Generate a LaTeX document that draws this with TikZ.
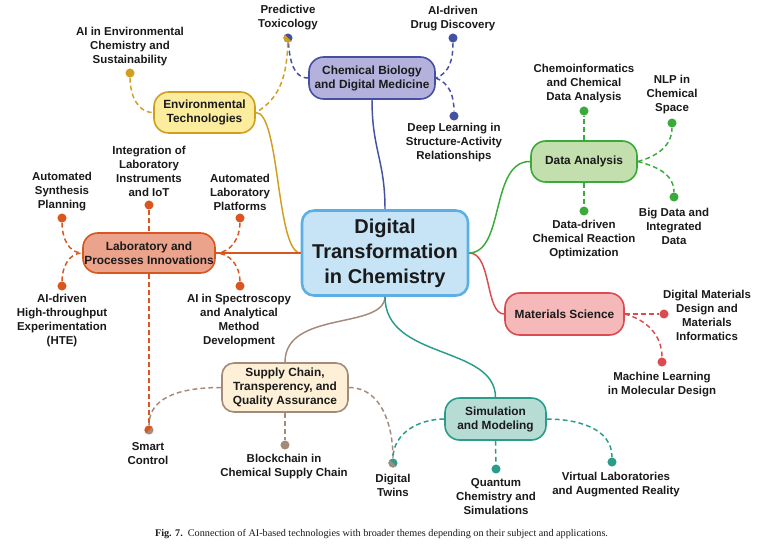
\documentclass[tikz,border=0pt]{standalone}
\usepackage{fontspec}
\setmainfont{Liberation Sans}
\newfontfamily\capfont{Liberation Serif}
\usetikzlibrary{calc}
\definecolor{cbF}{HTML}{B4B1DC}\definecolor{cbD}{HTML}{4450A2}
\definecolor{enF}{HTML}{FBEC9E}\definecolor{enD}{HTML}{D29E1E}
\definecolor{lbF}{HTML}{EBA38B}\definecolor{lbD}{HTML}{D9571F}
\definecolor{scF}{HTML}{FDF0D6}\definecolor{scD}{HTML}{A38A7A}
\definecolor{smF}{HTML}{B6DCD3}\definecolor{smD}{HTML}{2A9D8A}
\definecolor{msF}{HTML}{F5B9BA}\definecolor{msD}{HTML}{DB4B50}
\definecolor{daF}{HTML}{C4DFAE}\definecolor{daD}{HTML}{3AAA3A}
\definecolor{ctF}{HTML}{C6E4F6}\definecolor{ctD}{HTML}{5BAFE3}
\definecolor{txt}{HTML}{1A1A1A}
\tikzset{
  topic/.style={draw, rectangle, rounded corners=11pt, line width=1.2pt, align=center,
    font=\bfseries\fontsize{8.9}{10.5}\selectfont, text=txt, inner sep=0pt},
  lbl/.style={align=center, font=\bfseries\fontsize{8.6}{10.5}\selectfont, text=txt, inner sep=0pt},
  dotn/.style={circle, inner sep=0pt, minimum size=6.8pt},
  sub/.style={dash pattern=on 3.6pt off 2.4pt, line width=1.1pt},
  mainln/.style={line width=1.1pt},
}
\begin{document}
\begin{tikzpicture}[x=0.75pt,y=0.75pt]
\useasboundingbox (0,0) rectangle (762,-551);
\fill[white] (0,0) rectangle (762,-551);

% main topics
\node[topic, fill=ctF, draw=ctD, line width=1.9pt, minimum width=124.5pt, minimum height=63.75pt,
  rounded corners=9pt, font=\bfseries\fontsize{15}{18.75}\selectfont] (ct) at (385,-253)
  {Digital\\Transformation\\in Chemistry};
\node[topic, fill=cbF, draw=cbD, minimum width=94.5pt, minimum height=31.5pt] (cb) at (372,-78)
  {Chemical Biology\\and Digital Medicine};
\node[topic, fill=enF, draw=enD, minimum width=75.75pt, minimum height=30.75pt] (en) at (204.5,-112.5)
  {Environmental\\Technologies};
\node[topic, fill=lbF, draw=lbD, minimum width=99pt, minimum height=30pt] (lb) at (149,-253)
  {Laboratory and\\Processes Innovations};
\node[topic, fill=scF, draw=scD, minimum width=94.5pt, minimum height=36.75pt, rounded corners=9pt] (sc) at (285,-387.5)
  {Supply Chain,\\Transperency, and\\Quality Assurance};
\node[topic, fill=smF, draw=smD, minimum width=75.75pt, minimum height=31.5pt] (sm) at (495.5,-419)
  {Simulation\\and Modeling};
\node[topic, fill=msF, draw=msD, minimum width=89.25pt, minimum height=31.5pt] (ms) at (564.5,-314)
  {Materials Science};
\node[topic, fill=daF, draw=daD, minimum width=79.5pt, minimum height=30.75pt] (da) at (584,-161.5)
  {Data Analysis};

% dots
\node[dotn] (d-pt) at (288,-38) {};
\node[dotn, fill=cbD] (d-dd) at (453,-38) {};
\node[dotn, fill=cbD] (d-dl) at (454,-116) {};
\node[dotn, fill=enD] (d-ae) at (130,-73) {};
\node[dotn, fill=lbD] (d-asp) at (62,-218) {};
\node[dotn, fill=lbD] (d-iot) at (149,-205) {};
\node[dotn, fill=lbD] (d-alp) at (240,-218) {};
\node[dotn, fill=lbD] (d-hte) at (62,-286) {};
\node[dotn, fill=lbD] (d-ais) at (240,-286) {};
\node[dotn] (d-sm) at (149,-430) {};
\node[dotn, fill=scD] (d-bc) at (285,-445) {};
\node[dotn] (d-dt) at (393,-463) {};
\node[dotn, fill=smD] (d-qc) at (496,-469) {};
\node[dotn, fill=smD] (d-vl) at (612,-462) {};
\node[dotn, fill=msD] (d-ml) at (662,-362) {};
\node[dotn, fill=msD] (d-dm) at (664,-314) {};
\node[dotn, fill=daD] (d-bd) at (674,-197) {};
\node[dotn, fill=daD] (d-dr) at (584,-211) {};
\node[dotn, fill=daD] (d-ci) at (584,-111) {};
\node[dotn, fill=daD] (d-nl) at (672,-123) {};

% labels
\node[lbl] (t-pt) at (288,-18) {Predictive\\Toxicology};
\node[lbl] (t-dd) at (453,-18.5) {AI-driven\\Drug Discovery};
\node[lbl] (t-dl) at (454,-143) {Deep Learning in\\Structure-Activity\\Relationships};
\node[lbl] (t-ae) at (130,-47) {AI in Environmental\\Chemistry and\\Sustainability};
\node[lbl] (t-asp) at (62,-192) {Automated\\Synthesis\\Planning};
\node[lbl] (t-iot) at (149,-171) {Integration of\\Laboratory\\Instruments\\and IoT};
\node[lbl] (t-alp) at (240,-192) {Automated\\Laboratory\\Platforms};
\node[lbl] (t-hte) at (62,-321) {AI-driven\\High-throughput\\Experimentation\\(HTE)};
\node[lbl] (t-ais) at (239,-321) {AI in Spectroscopy\\and Analytical\\Method\\Development};
\node[lbl] (t-sm) at (148,-454) {Smart\\Control};
\node[lbl] (t-bc) at (284,-467) {Blockchain in\\Chemical Supply Chain};
\node[lbl] (t-dt) at (393,-485) {Digital\\Twins};
\node[lbl] (t-qc) at (496,-497) {Quantum\\Chemistry and\\Simulations};
\node[lbl] (t-vl) at (616,-485) {Virtual Laboratories\\and Augmented Reality};
\node[lbl] (t-ml) at (662,-385) {Machine Learning\\in Molecular Design};
\node[lbl] (t-dm) at (707,-315.5) {Digital Materials\\Design and\\Materials\\Informatics};
\node[lbl] (t-bd) at (674,-226) {Big Data and\\Integrated\\Data};
\node[lbl] (t-dr) at (584,-240) {Data-driven\\Chemical Reaction\\Optimization};
\node[lbl] (t-ci) at (584,-84) {Chemoinformatics\\and Chemical\\Data Analysis};
\node[lbl] (t-nl) at (672,-95) {NLP in\\Chemical\\Space};

% main connectors
\draw[mainln, cbD] (ct.north) .. controls (385,-160) and (372,-150) .. (cb.south);
\draw[mainln, enD] (en.east) .. controls (280,-112) and (276,-253) .. (ct.west);
\draw[mainln, lbD] (ct.west) -- (lb.east);
\draw[mainln, scD] (ct.south) .. controls (384,-330) and (285,-310) .. (sc.north);
\draw[mainln, smD] (ct.south) .. controls (385,-360) and (495,-345) .. (sm.north);
\draw[mainln, msD] (ct.east) .. controls (492,-253) and (485,-314) .. (ms.west);
\draw[mainln, daD] (ct.east) .. controls (505,-252) and (490,-161) .. (da.west);

% sub connectors
\draw[sub, cbD] (d-pt) to[out=-85, in=180] (cb.west);
\draw[sub, enD] (d-pt) to[out=-92, in=30] (en.east);
\draw[sub, cbD] (d-dd) to[out=-90, in=20] (cb.east);
\draw[sub, cbD] (cb.east) to[out=-20, in=90] (d-dl);
\draw[sub, enD] (d-ae) to[out=-90, in=180] (en.west);
\draw[sub, lbD] (d-asp) to[out=-90, in=180] (lb.west);
\draw[sub, lbD] (d-hte) to[out=90, in=180] (lb.west);
\draw[sub, lbD] (d-alp) to[out=-90, in=0] (lb.east);
\draw[sub, lbD] (d-ais) to[out=90, in=0] (lb.east);
\draw[sub, lbD] (d-iot) -- (lb.north);
\draw[sub, lbD] (lb.south) -- (d-sm);
\draw[sub, scD] (sc.west) to[out=180, in=90] (d-sm);
\draw[sub, scD] (sc.east) to[out=0, in=90] (d-dt);
\draw[sub, scD] (sc.south) -- (d-bc);
\draw[sub, smD] (sm.west) to[out=180, in=90] (d-dt);
\draw[sub, smD] (sm.east) to[out=0, in=90] (d-vl);
\draw[sub, smD] (sm.south) -- (d-qc);
\draw[sub, msD] (ms.east) -- (d-dm);
\draw[sub, msD] (ms.east) to[out=-15, in=90] (d-ml);
\draw[sub, daD] (da.north) -- (d-ci);
\draw[sub, daD] (da.south) -- (d-dr);
\draw[sub, daD] (da.east) to[out=15, in=-90] (d-nl);
\draw[sub, daD] (da.east) to[out=-15, in=90] (d-bd);

% split dots (drawn on top of their connectors)
\begin{scope}
\clip (d-pt.center) circle[radius=3.4pt];
\fill[cbD] ($(d-pt.center)+(-6,-6)$) rectangle ($(d-pt.center)+(6,6)$);
\fill[enD] ($(d-pt.center)+(-6,6)$) -- ($(d-pt.center)+(6,-6)$) -- ($(d-pt.center)+(-6,-6)$) -- cycle;
\end{scope}
\begin{scope}
\clip (d-sm.center) circle[radius=3.4pt];
\fill[scD] ($(d-sm.center)+(-6,-6)$) rectangle ($(d-sm.center)+(6,6)$);
\fill[lbD] ($(d-sm.center)+(-6,-6)$) -- ($(d-sm.center)+(6,6)$) -- ($(d-sm.center)+(-6,6)$) -- cycle;
\end{scope}
\begin{scope}
\clip (d-dt.center) circle[radius=3.4pt];
\fill[smD] ($(d-dt.center)+(-6,-6)$) rectangle ($(d-dt.center)+(6,6)$);
\fill[scD] ($(d-dt.center)+(-6,6)$) -- ($(d-dt.center)+(6,-6)$) -- ($(d-dt.center)+(-6,-6)$) -- cycle;
\end{scope}

% caption
\node[font=\capfont\fontsize{7.65}{9}\selectfont, text=txt, inner sep=0pt] (cap) at (381.5,-534)
  {\textbf{Fig. 7.}\ \ Connection of AI-based technologies with broader themes depending on their subject and applications.};
\end{tikzpicture}
\end{document}
